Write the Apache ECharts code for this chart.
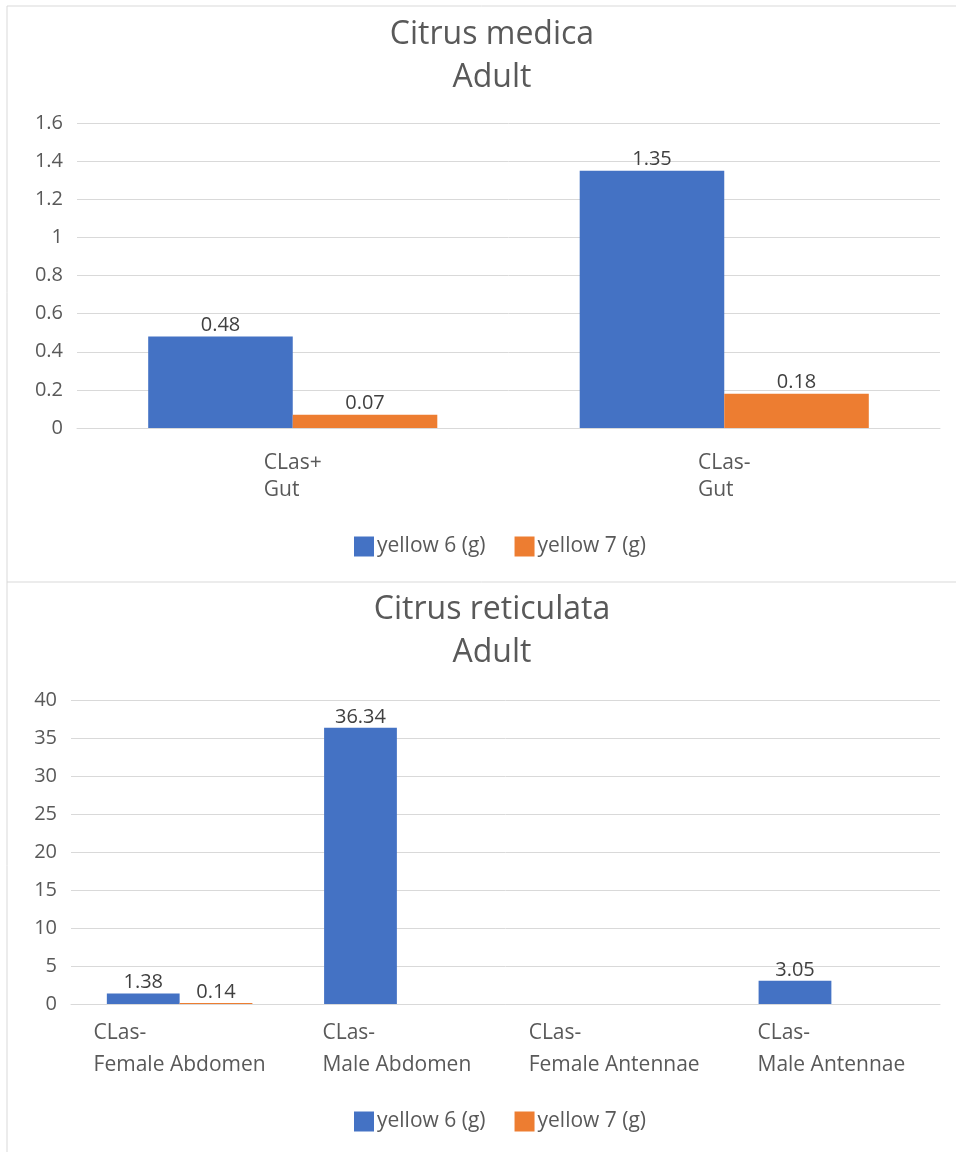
<!DOCTYPE html>
<html>
<head>
<meta charset="UTF-8">
<title>Citrus charts</title>
<script src="https://cdn.jsdelivr.net/npm/echarts@6/dist/echarts.min.js"></script>
<style>
    body { margin: 0; background: #fff; }
    #main { width: 956px; height: 1152px; }
</style>
</head>
<body>
<div id="main"></div>
<script>
    // top chart: Citrus medica
    const medicaCats = ['CLas+\nGut', 'CLas-\nGut'];
    const medicaY6 = [0.48, 1.35];
    const medicaY7 = [0.07, 0.18];

    // bottom chart: Citrus reticulata
    const retCats = ['CLas-\nFemale Abdomen', 'CLas-\nMale Abdomen', 'CLas-\nFemale Antennae', 'CLas-\nMale Antennae'];
    const retY6 = [1.38, 36.34, null, 3.05];
    const retY7 = [0.14, null, null, null];

    const seriesNames = ['yellow 6 (g)', 'yellow 7 (g)'];
    const colors = ['#4472C4', '#ED7D31'];
    const font = '"Open Sans", sans-serif';
    const textColor = '#595959';

    const chart = echarts.init(document.getElementById('main'));

    // left-align the lines inside each category label
    function catLabel(v) {
        return v.split('\n').map(s => '{l|' + s + '}').join('\n');
    }

    function xAxis(gridIndex, cats, margin, lineHeight) {
        return {
            type: 'category', gridIndex: gridIndex, data: cats,
            axisLine: { lineStyle: { color: '#d9d9d9' } },
            axisTick: { show: false },
            axisLabel: {
                interval: 0, margin: margin, color: textColor, fontFamily: font, fontSize: 21,
                lineHeight: lineHeight, formatter: catLabel,
                rich: { l: { align: 'left', color: textColor, fontFamily: font, fontSize: 21, lineHeight: lineHeight } }
            }
        };
    }

    function yAxis(gridIndex, max, interval) {
        return {
            type: 'value', gridIndex: gridIndex, min: 0, max: max, interval: interval,
            axisLine: { show: false }, axisTick: { show: false },
            splitLine: { lineStyle: { color: '#d9d9d9' } },
            axisLabel: { margin: 14, color: textColor, fontFamily: font, fontSize: 20 }
        };
    }

    function barSeries(name, idx, axisIdx, data) {
        return {
            name: name, type: 'bar', xAxisIndex: axisIdx, yAxisIndex: axisIdx,
            data: data, barGap: '0%', barCategoryGap: '33%',
            itemStyle: { color: colors[idx] },
            label: {
                show: true, position: 'top', distance: 1,
                color: '#404040', fontFamily: font, fontSize: 20
            }
        };
    }

    function legend(top) {
        return {
            data: seriesNames, top: top, left: 349, itemWidth: 20, itemHeight: 20, itemGap: 29,
            icon: 'rect', textStyle: { fontFamily: font, fontSize: 21, color: textColor, padding: [0, 0, 0, -2] }
        };
    }

    const titleStyle = { fontFamily: font, fontSize: 32, fontWeight: 'normal', color: textColor, lineHeight: 43 };

    const option = {
        animation: false,
        title: [
            { text: 'Citrus medica\nAdult', left: 487, top: 8, textAlign: 'center', textStyle: titleStyle },
            { text: 'Citrus reticulata\nAdult', left: 487, top: 583, textAlign: 'center', textStyle: titleStyle }
        ],
        legend: [legend(531), legend(1106)],
        grid: [
            { left: 77, right: 16, top: 123, height: 305 },
            { left: 71, right: 16, top: 700, height: 304 }
        ],
        xAxis: [xAxis(0, medicaCats, 22, 27), xAxis(1, retCats, 13, 32)],
        yAxis: [yAxis(0, 1.6, 0.2), yAxis(1, 40, 5)],
        series: [
            barSeries(seriesNames[0], 0, 0, medicaY6),
            barSeries(seriesNames[1], 1, 0, medicaY7),
            barSeries(seriesNames[0], 0, 1, retY6),
            barSeries(seriesNames[1], 1, 1, retY7)
        ],
        graphic: [
            { type: 'line', shape: { x1: 7, y1: 6, x2: 956, y2: 6 }, style: { stroke: '#d9d9d9', lineWidth: 1 } },
            { type: 'line', shape: { x1: 7, y1: 6, x2: 7, y2: 1152 }, style: { stroke: '#d9d9d9', lineWidth: 1 } },
            { type: 'line', shape: { x1: 7, y1: 582, x2: 956, y2: 582 }, style: { stroke: '#d9d9d9', lineWidth: 1 } }
        ]
    };

    chart.setOption(option);
</script>
</body>
</html>
